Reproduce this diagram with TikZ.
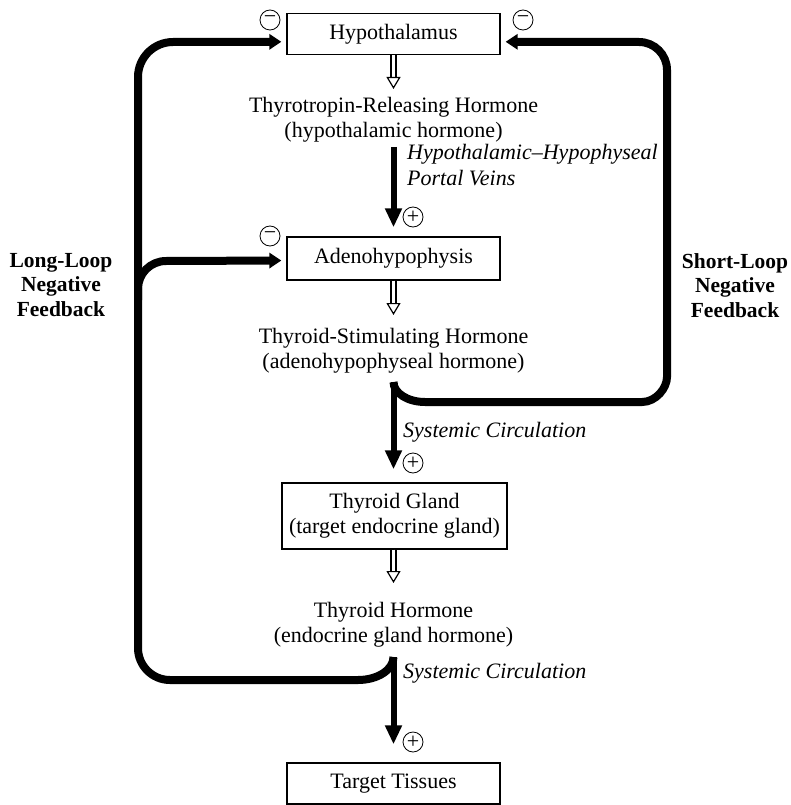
\documentclass[tikz,border=0pt]{standalone}
\usepackage{fontspec}
\setmainfont{Liberation Serif}
\usetikzlibrary{arrows.meta}
\begin{document}
% y axis points down: (x,y) are measured from the top left corner
\begin{tikzpicture}[x=1pt,y=-1pt,
  txt/.style={font=\fontsize{22}{25}\selectfont, align=center, inner sep=0pt},
  box/.style={draw, line width=1.3pt, inner sep=0pt, minimum width=213pt,
    minimum height=41pt, align=center, font=\fontsize{22}{25}\selectfont},
  route/.style={font=\fontsize{22}{26}\selectfont\itshape, align=left, inner sep=0pt},
  looplabel/.style={font=\fontsize{21.5}{24.5}\selectfont\bfseries, align=center, inner sep=0pt},
  sign/.style={circle, draw, line width=0.8pt, inner sep=0pt, minimum size=20pt,
    font=\fontsize{22}{22}\selectfont},
  flow/.style={line width=6pt, -{Triangle[width=16pt,length=19pt]}},
  release/.style={double, line width=1.2pt, double distance=3.8pt,
    -{Triangle[open,width=14pt,length=12pt]}},
  feedback/.style={line width=8pt, -{Triangle[width=15pt,length=12pt]}}
]
\useasboundingbox (0,0) rectangle (791,805);

% boxes
\node[box] (hyp) at (393.5,33.8) {Hypothalamus};
\node[box, minimum height=43pt] (adeno) at (393.5,258.5) {Adenohypophysis};
\node[box, minimum width=225pt, minimum height=66pt] (thyroid) at (394.5,516)
  {Thyroid Gland\\(target endocrine gland)};
\node[box] (target) at (393.5,783.5) {Target Tissues};

% hormones
\node[txt, anchor=north] (trh) at (393.5,97) {Thyrotropin-Releasing Hormone\\(hypothalamic hormone)};
\node[txt, anchor=north] (tsh) at (393.5,328) {Thyroid-Stimulating Hormone\\(adenohypophyseal hormone)};
\node[txt, anchor=north] (th) at (393.5,602) {Thyroid Hormone\\(endocrine gland hormone)};

% routes
\node[route, anchor=north west] (portal) at (407,144) {Hypothalamic–Hypophyseal\\Portal Veins};
\node[route, anchor=base west] (sys1) at (403,437) {Systemic Circulation};
\node[route, anchor=base west] (sys2) at (403,678) {Systemic Circulation};

% loop labels
\node[looplabel, anchor=north] (long) at (61,253) {Long-Loop\\Negative\\Feedback};
\node[looplabel, anchor=north] (short) at (735,253) {Short-Loop\\Negative\\Feedback};

% signs
\node[sign] (m1) at (270,20) {−};
\node[sign] (m2) at (523,20) {−};
\node[sign] (m3) at (270,236) {−};
\node[sign] (p1) at (413,217) {+};
\node[sign] (p2) at (413,463) {+};
\node[sign] (p3) at (413,742) {+};

% release arrows
\draw[release, shorten >=8pt] (hyp.south) -- (trh.north);
\draw[release, shorten >=13pt] (adeno.south) -- (tsh.north);
\draw[release, shorten >=19pt] (thyroid.south -| hyp.south) -- (th.north);

% circulation arrows
\coordinate (trhout) at (393.5,147);
\coordinate (tshout) at (393.5,382);
\coordinate (thout) at (393.5,657);
\draw[flow, shorten >=9pt] (trhout) -- (adeno.north);
\draw[flow, shorten >=13pt] (tshout) -- (thyroid.north -| adeno.north);
\draw[flow, shorten >=18pt] (thout) -- (target.north);

% short loop: TSH back to the hypothalamus
\draw[feedback, shorten >=5pt]
  (tshout) .. controls (393.5,393) and (407.6,402) .. (425,402)
  -- (642,402) .. controls (655.8,402) and (667,388.2) .. (667,377)
  -- (667,70) .. controls (667,54.5) and (654.5,42) .. (639,42)
  -- ([yshift=-8pt]hyp.east);

% long loop: thyroid hormone back to the hypothalamus and the adenohypophysis
\draw[feedback, shorten >=5pt]
  (thout) .. controls (393.5,669.7) and (377.6,680) .. (358,680)
  -- (170,680) .. controls (152.3,680) and (138,665.7) .. (138,648)
  -- (138,77) .. controls (138,57.7) and (153.7,42) .. (173,42)
  -- ([yshift=-8pt]hyp.west);
\coordinate (branch) at (138,300);
\draw[feedback, shorten >=5pt]
  (branch) -- (138,289) .. controls (138,273.5) and (150.5,261) .. (166,261)
  -- ([yshift=-2pt]adeno.west);
\end{tikzpicture}
\end{document}
